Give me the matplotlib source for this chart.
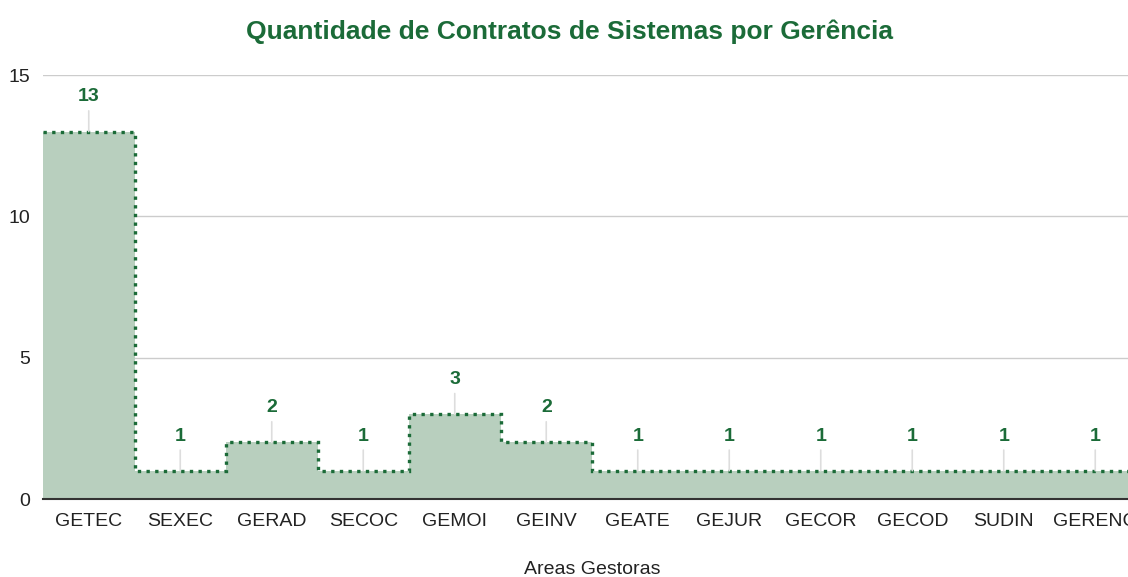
import matplotlib
matplotlib.use('Agg')
import matplotlib.pyplot as plt
import numpy as np

plt.rcParams['font.family'] = ['Liberation Sans', 'DejaVu Sans']

areas = ['GETEC', 'SEXEC', 'GERAD', 'SECOC', 'GEMOI', 'GEINV',
         'GEATE', 'GEJUR', 'GECOR', 'GECOD', 'SUDIN', 'GERENC']
contratos = [13, 1, 2, 1, 3, 2, 1, 1, 1, 1, 1, 1]

verde = '#1b6b38'
preenchimento = '#b8cfbe'

fig = plt.figure(figsize=(11.28, 5.77), dpi=100)
ax = fig.add_axes([43 / 1128, 78 / 577, 1098 / 1128, 424 / 577])

bordas = np.arange(len(areas) + 1) - 0.5
ax.stairs(contratos, bordas, fill=True, color=preenchimento, zorder=2)
ax.stairs(contratos, bordas, baseline=None, color=verde, linewidth=2.4,
          linestyle=(0, (1, 1.6)), zorder=3)

for i, v in enumerate(contratos):
    ax.annotate(str(v), xy=(i, v), xytext=(0, 25), textcoords='offset points',
                ha='center', va='center', fontsize=14, fontweight='bold', color=verde,
                arrowprops=dict(arrowstyle='-', color='#dddddd', lw=1.2,
                                shrinkA=2, shrinkB=0), zorder=4)

ax.set_xlim(-0.5, len(areas) - 0.5)
ax.set_ylim(0, 15)
ax.set_yticks([0, 5, 10, 15])
ax.set_xticks(range(len(areas)))
ax.set_xticklabels(areas)
ax.tick_params(axis='both', length=0, labelsize=14, colors='#222222')
ax.tick_params(axis='y', pad=9)
ax.tick_params(axis='x', pad=10)
ax.grid(axis='y', color='#cccccc', linewidth=1, zorder=1)
ax.set_axisbelow(True)
for s in ['top', 'right', 'left']:
    ax.spines[s].set_visible(False)
ax.spines['bottom'].set_color('#333333')
ax.spines['bottom'].set_linewidth(1.5)
ax.spines['bottom'].set_zorder(5)

fig.text(570 / 1128, 1 - 32 / 577, 'Quantidade de Contratos de Sistemas por Gerência',
         ha='center', va='center', fontsize=19, fontweight='bold', color=verde)
fig.text(592 / 1128, 1 - 570 / 577, 'Areas Gestoras', ha='center', va='center',
         fontsize=14, color='#222222')

fig.savefig('out.png', dpi=100)
